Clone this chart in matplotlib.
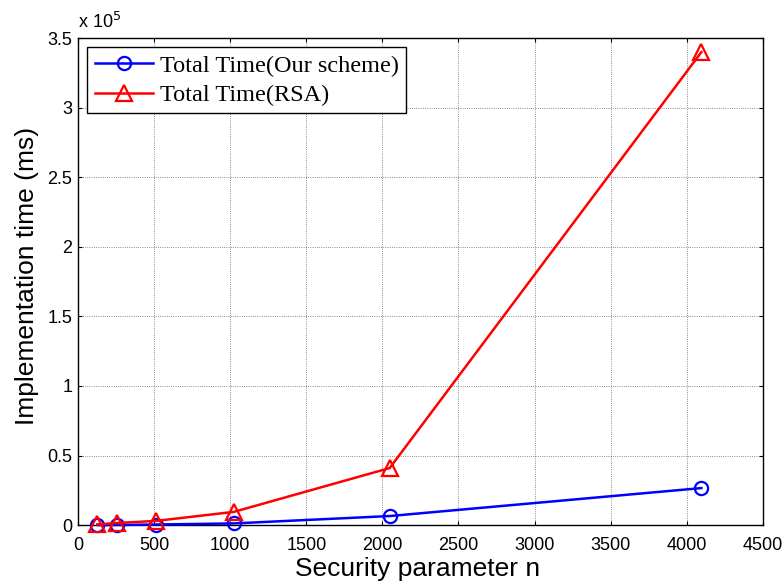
import matplotlib
matplotlib.use('Agg')
import matplotlib.pyplot as plt
from matplotlib.ticker import FuncFormatter

# security parameter n (bits)
key_sizes = [128, 256, 512, 1024, 2048, 4096]
# total implementation time in ms
time_ours = [50, 100, 400, 1200, 6500, 26600]
time_rsa = [500, 1500, 3000, 9500, 41000, 340000]

y_ticks = [0, 0.5e5, 1e5, 1.5e5, 2e5, 2.5e5, 3e5, 3.5e5]
x_ticks = [0, 500, 1000, 1500, 2000, 2500, 3000, 3500, 4000, 4500]


def main():
    plt.rcParams['font.family'] = 'Liberation Sans'
    fig = plt.figure(figsize=(7.84, 5.88), dpi=100)
    ax = fig.add_axes([0.0995, 0.107, 0.8735, 0.828])

    ax.plot(key_sizes, time_ours, color='blue', lw=1.8, marker='o',
            markersize=9.5, markerfacecolor='none', markeredgewidth=1.6,
            label='Total Time(Our scheme)', clip_on=False, zorder=3)
    ax.plot(key_sizes, time_rsa, color='red', lw=1.8, marker='^',
            markersize=11, markerfacecolor='none', markeredgewidth=1.6,
            label='Total Time(RSA)', clip_on=False, zorder=3)

    ax.set_xlim(0, 4500)
    ax.set_ylim(0, 3.5e5)
    ax.set_xticks(x_ticks)
    ax.set_yticks(y_ticks)
    ax.yaxis.set_major_formatter(FuncFormatter(lambda v, p: '%g' % (v / 1e5)))
    ax.tick_params(direction='in', top=True, right=True, labelsize=13,
                   length=3, width=0.8)
    ax.tick_params(axis='x', pad=8.5)
    ax.tick_params(axis='y', pad=4)
    for s in ax.spines.values():
        s.set_linewidth(1.0)
    ax.grid(True, linestyle=':', color='black', linewidth=0.6, alpha=0.6)

    ax.text(0.0, 1.012, r'x 10$^5$', transform=ax.transAxes, fontsize=13,
            ha='left', va='bottom')

    ax.set_xlabel('Security parameter n', fontsize=19, labelpad=2, x=0.496)
    ax.set_ylabel('Implementation time (ms)', fontsize=19, labelpad=6, y=0.512)

    leg = ax.legend(loc='upper left', prop={'family': 'Liberation Serif', 'size': 17.5},
                    fancybox=False, edgecolor='black', framealpha=1,
                    borderaxespad=0.38, handlelength=2.4, borderpad=0.3,
                    labelspacing=0.3, handletextpad=0.3)
    leg.get_frame().set_linewidth(1.0)
    leg.set_zorder(5)

    fig.savefig('out.png', dpi=100)


if __name__ == "__main__":
    main()
